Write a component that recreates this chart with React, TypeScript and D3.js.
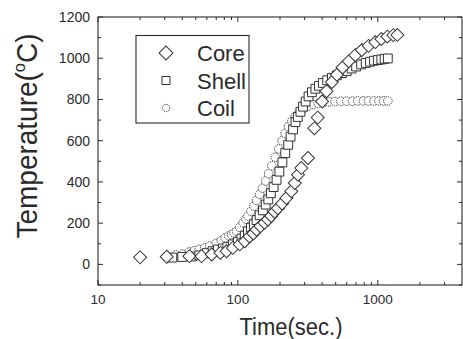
import { useEffect, useRef } from "react";
import * as d3 from "d3";

// [time (s), temperature (°C)]
const coreData: [number, number][] = [
  [20, 34], [31, 37], [45, 40], [55, 40], [65, 48], [75, 56], [83, 64], [92, 80],
  [103, 97], [112, 112], [121, 135], [129, 150], [136, 168], [145, 185], [155, 202],
  [164, 218], [173, 235], [183, 255], [193, 272], [207, 295], [222, 322], [241, 355],
  [255, 395], [269, 435], [284, 468], [317, 516], [352, 660], [372, 712], [400, 790],
  [430, 840], [470, 885], [510, 920], [560, 955], [620, 985], [690, 1015], [770, 1040],
  [860, 1060], [960, 1078], [1060, 1093], [1170, 1105], [1290, 1112], [1380, 1113],
];

const shellData: [number, number][] = [
  [34, 33], [40, 36], [47, 38], [53, 44], [60, 55], [66, 64], [72, 72], [78, 77],
  [84, 84], [92, 97], [100, 110], [106, 125], [112, 140], [118, 160], [124, 178],
  [130, 195], [136, 215], [143, 238], [151, 262], [158, 290], [165, 315], [172, 345],
  [180, 375], [189, 410], [198, 450], [208, 495], [218, 540], [229, 580], [238, 620],
  [248, 655], [258, 690], [268, 715], [280, 740], [292, 765], [305, 790], [320, 815],
  [338, 835], [358, 852], [380, 866], [405, 880], [435, 893], [470, 905], [510, 917],
  [555, 928], [600, 938], [650, 950], [700, 960], [760, 970], [820, 977], [880, 983],
  [940, 988], [1000, 991], [1060, 994], [1120, 997], [1180, 999],
];

const coilData: [number, number][] = [
  [36, 46], [40, 50], [45, 60], [49, 66], [53, 73], [58, 80], [63, 89], [70, 102],
  [76, 115], [81, 129], [86, 138], [90, 145], [94, 152], [98, 161], [103, 180],
  [109, 202], [114, 220], [118, 234], [124, 258], [130, 283], [136, 310], [143, 340],
  [150, 370], [158, 405], [166, 440], [175, 478], [185, 520], [196, 560], [207, 600],
  [218, 635], [230, 668], [243, 695], [258, 718], [275, 738], [295, 755], [318, 767],
  [345, 775], [375, 781], [410, 785], [450, 788], [495, 790], [545, 791], [600, 792],
  [660, 792], [720, 793], [790, 793], [860, 793], [940, 793], [1020, 793], [1100, 793],
  [1180, 793],
];

const yTicks = [0, 200, 400, 600, 800, 1000, 1200];
const xTickLabels = [10, 100, 1000];
const legendNames = ["Core", "Shell", "Coil"];

const FONT = "'Liberation Sans', Arial, sans-serif";
const INK = "#2a2a2a";

export default function App() {
  const svgRef = useRef<SVGSVGElement>(null);

  useEffect(() => {
    if (!svgRef.current) return;
    const svg = d3.select(svgRef.current);
    svg.selectAll("*").remove();

    const left = 98, right = 462, top = 17, bottom = 285;
    const x = d3.scaleLog().domain([10, 4000]).range([left, right]);
    const y = d3.scaleLinear().domain([-100, 1200]).range([bottom, top]);

    svg.append("rect").attr("width", 463).attr("height", 339).attr("fill", "#fff");

    // frame
    svg.append("rect")
      .attr("x", left).attr("y", top)
      .attr("width", right - left).attr("height", bottom - top)
      .attr("fill", "none").attr("stroke", INK).attr("stroke-width", 1.1);

    // y ticks (left and right, inward)
    const yMinor = d3.range(-100, 1201, 100);
    yMinor.forEach((v) => {
      const major = v % 200 === 0;
      const len = major ? 5 : 3;
      const yy = y(v);
      svg.append("line").attr("x1", left).attr("x2", left + len).attr("y1", yy).attr("y2", yy)
        .attr("stroke", INK);
      svg.append("line").attr("x1", right).attr("x2", right - len).attr("y1", yy).attr("y2", yy)
        .attr("stroke", INK);
    });
    svg.append("g").selectAll("text").data(yTicks).enter().append("text")
      .attr("x", 90).attr("y", (d) => y(d) + 5)
      .attr("text-anchor", "end")
      .attr("font-family", FONT).attr("font-size", 14).attr("fill", INK)
      .text((d) => d);

    // x ticks (log, bottom and top, inward)
    const xt: { v: number; major: boolean }[] = [];
    [10, 100, 1000].forEach((dec) => {
      for (let k = 1; k <= 9; k++) {
        const v = k * dec;
        if (v < 4000) xt.push({ v, major: k === 1 });
      }
    });
    xt.forEach(({ v, major }) => {
      const len = major ? 5 : 3;
      const xx = x(v);
      svg.append("line").attr("x1", xx).attr("x2", xx).attr("y1", bottom).attr("y2", bottom - len)
        .attr("stroke", INK);
      svg.append("line").attr("x1", xx).attr("x2", xx).attr("y1", top).attr("y2", top + len)
        .attr("stroke", INK);
    });
    svg.append("g").selectAll("text").data(xTickLabels).enter().append("text")
      .attr("x", (d) => x(d)).attr("y", 303.5)
      .attr("text-anchor", "middle")
      .attr("font-family", FONT).attr("font-size", 13.5).attr("fill", INK)
      .text((d) => d);

    // axis titles
    svg.append("text")
      .attr("x", 291).attr("y", 335)
      .attr("text-anchor", "middle")
      .attr("font-family", FONT).attr("font-size", 23).attr("fill", INK)
      .attr("textLength", 103).attr("lengthAdjust", "spacingAndGlyphs")
      .text("Time(sec.)");

    const yTitle = svg.append("text")
      .attr("transform", "translate(36.5,136) rotate(-90)")
      .attr("text-anchor", "middle")
      .attr("font-family", FONT).attr("font-size", 29).attr("fill", INK)
      .attr("textLength", 205).attr("lengthAdjust", "spacingAndGlyphs");
    yTitle.append("tspan").text("Temperature(");
    yTitle.append("tspan").attr("font-size", 17).attr("dy", -12).text("o");
    yTitle.append("tspan").attr("dy", 12).text("C)");

    // markers
    const diamond = d3.symbol(d3.symbolSquare, 84)();
    const square = d3.symbol(d3.symbolSquare, 78)();

    const drawSeries = (data: [number, number][], kind: string) => {
      const g = svg.append("g");
      data.forEach(([t, v]) => {
        const cx = x(t), cy = y(v);
        if (kind === "coil") {
          g.append("circle").attr("cx", cx).attr("cy", cy).attr("r", 4.3)
            .attr("fill", "#fff").attr("stroke", "#3a3a3a").attr("stroke-width", 1)
            .attr("stroke-dasharray", "1.3,0.9");
        } else {
          g.append("path")
            .attr("d", kind === "core" ? diamond : square)
            .attr("transform", `translate(${cx},${cy})${kind === "core" ? " rotate(45)" : ""}`)
            .attr("fill", "#fff").attr("stroke", "#333").attr("stroke-width", 1);
        }
      });
    };
    drawSeries(coilData, "coil");
    drawSeries(shellData, "shell");
    drawSeries(coreData, "core");

    // legend
    svg.append("rect")
      .attr("x", 136).attr("y", 35.5).attr("width", 113).attr("height", 87.5)
      .attr("fill", "#fff").attr("stroke", INK).attr("stroke-width", 1.1);
    const kinds = ["core", "shell", "coil"];
    legendNames.forEach((name, i) => {
      const base = 61 + i * 27.5;
      const cy = base - 8;
      if (kinds[i] === "coil") {
        svg.append("circle").attr("cx", 166).attr("cy", cy).attr("r", 3.7)
          .attr("fill", "#fff").attr("stroke", "#3a3a3a").attr("stroke-dasharray", "1.3,0.9");
      } else {
        svg.append("path")
          .attr("d", kinds[i] === "core" ? d3.symbol(d3.symbolSquare, 96)() : d3.symbol(d3.symbolSquare, 64)())
          .attr("transform", `translate(166,${cy})${kinds[i] === "core" ? " rotate(45)" : ""}`)
          .attr("fill", "#fff").attr("stroke", "#333");
      }
      svg.append("text")
        .attr("x", 197).attr("y", base)
        .attr("font-family", FONT).attr("font-size", 22).attr("fill", INK)
        .text(name);
    });
  }, []);

  return (
    <div style={{ position: "absolute", left: 0, top: 0 }}>
      <svg ref={svgRef} width={463} height={339} style={{ display: "block" }} />
    </div>
  );
}
